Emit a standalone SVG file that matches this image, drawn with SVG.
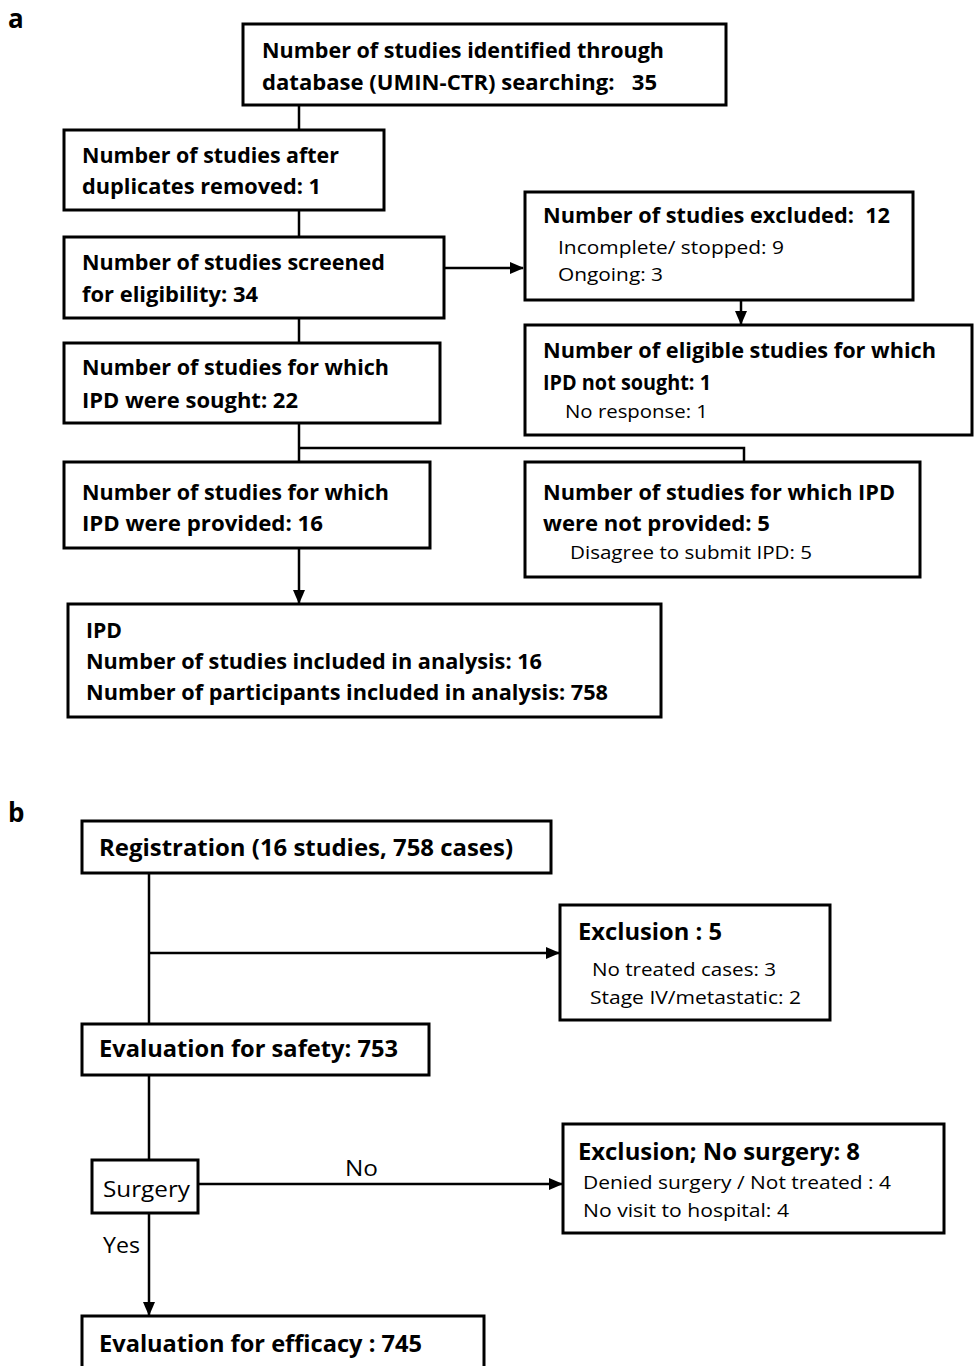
<svg xmlns="http://www.w3.org/2000/svg" width="974" height="1366" viewBox="0 0 974 1366">
<style>
.box{fill:#fff;stroke:#000;stroke-width:3}
.ln{fill:none;stroke:#000;stroke-width:2.5}
.b{font-family:"Open Sans","Liberation Sans",sans-serif;font-weight:bold;font-size:22px;fill:#000}
.bb{font-family:"Open Sans","Liberation Sans",sans-serif;font-weight:bold;font-size:24px;fill:#000}
.n{font-family:"Open Sans","Liberation Sans",sans-serif;font-size:19px;fill:#000}
.nb{font-family:"Open Sans","Liberation Sans",sans-serif;font-size:21px;fill:#000}
.lbl{font-family:"Open Sans","Liberation Sans",sans-serif;font-weight:bold;font-size:26px;fill:#000}
</style>
<defs>
<marker id="ah" markerWidth="14" markerHeight="14" refX="13" refY="7" orient="auto" markerUnits="userSpaceOnUse" viewBox="0 0 14 14">
<path d="M0,1 L14,7 L0,13 z" fill="#000"/>
</marker>
</defs>
<rect width="974" height="1366" fill="#fff"/>
<text class="lbl" x="8" y="28">a</text>
<text class="lbl" x="8" y="822">b</text>
<g id="connectors">
<line class="ln" x1="299" y1="105" x2="299" y2="130"/>
<line class="ln" x1="299" y1="210" x2="299" y2="237"/>
<line class="ln" x1="444" y1="268" x2="523" y2="268" marker-end="url(#ah)"/>
<line class="ln" x1="741" y1="300" x2="741" y2="324" marker-end="url(#ah)"/>
<line class="ln" x1="299" y1="318" x2="299" y2="343"/>
<line class="ln" x1="299" y1="423" x2="299" y2="462"/>
<polyline class="ln" points="299,448 744,448 744,462"/>
<line class="ln" x1="299" y1="548" x2="299" y2="603" marker-end="url(#ah)"/>
<line class="ln" x1="149" y1="873" x2="149" y2="1024"/>
<line class="ln" x1="149" y1="953" x2="559" y2="953" marker-end="url(#ah)"/>
<line class="ln" x1="149" y1="1075" x2="149" y2="1160"/>
<line class="ln" x1="198" y1="1184" x2="562" y2="1184" marker-end="url(#ah)"/>
<text class="nb" x="345" y="1176" textLength="33" lengthAdjust="spacingAndGlyphs">No</text>
<line class="ln" x1="149" y1="1213" x2="149" y2="1315" marker-end="url(#ah)"/>
<text class="nb" x="103" y="1253" textLength="37" lengthAdjust="spacingAndGlyphs">Yes</text>
</g>
<g id="identified">
<rect class="box" x="243" y="24" width="483" height="81"/>
<text class="b" x="262" y="58" textLength="402" lengthAdjust="spacingAndGlyphs">Number of studies identified through</text>
<text class="b" x="262" y="90" textLength="395" lengthAdjust="spacingAndGlyphs" xml:space="preserve">database (UMIN-CTR) searching:   35</text>
</g>
<g id="duplicates">
<rect class="box" x="64" y="130" width="320" height="80"/>
<text class="b" x="82" y="163" textLength="257" lengthAdjust="spacingAndGlyphs">Number of studies after</text>
<text class="b" x="82" y="194" textLength="239" lengthAdjust="spacingAndGlyphs">duplicates removed: 1</text>
</g>
<g id="screened">
<rect class="box" x="64" y="237" width="380" height="81"/>
<text class="b" x="82" y="270" textLength="303" lengthAdjust="spacingAndGlyphs">Number of studies screened</text>
<text class="b" x="82" y="302" textLength="176" lengthAdjust="spacingAndGlyphs">for eligibility: 34</text>
</g>
<g id="excluded">
<rect class="box" x="525" y="192" width="388" height="108"/>
<text class="b" x="543" y="223" textLength="347" lengthAdjust="spacingAndGlyphs" xml:space="preserve">Number of studies excluded:  12</text>
<text class="n" x="558" y="254" textLength="226" lengthAdjust="spacingAndGlyphs">Incomplete/ stopped: 9</text>
<text class="n" x="558" y="281" textLength="105" lengthAdjust="spacingAndGlyphs">Ongoing: 3</text>
</g>
<g id="notsought">
<rect class="box" x="525" y="325" width="447" height="110"/>
<text class="b" x="543" y="358" textLength="393" lengthAdjust="spacingAndGlyphs">Number of eligible studies for which</text>
<text class="b" x="543" y="390" textLength="168" lengthAdjust="spacingAndGlyphs">IPD not sought: 1</text>
<text class="n" x="565" y="418" textLength="143" lengthAdjust="spacingAndGlyphs">No response: 1</text>
</g>
<g id="sought">
<rect class="box" x="64" y="343" width="376" height="80"/>
<text class="b" x="82" y="375" textLength="307" lengthAdjust="spacingAndGlyphs">Number of studies for which</text>
<text class="b" x="82" y="408" textLength="216" lengthAdjust="spacingAndGlyphs">IPD were sought: 22</text>
</g>
<g id="provided">
<rect class="box" x="64" y="462" width="366" height="86"/>
<text class="b" x="82" y="500" textLength="307" lengthAdjust="spacingAndGlyphs">Number of studies for which</text>
<text class="b" x="82" y="531" textLength="241" lengthAdjust="spacingAndGlyphs">IPD were provided: 16</text>
</g>
<g id="notprovided">
<rect class="box" x="525" y="462" width="395" height="115"/>
<text class="b" x="543" y="500" textLength="352" lengthAdjust="spacingAndGlyphs">Number of studies for which IPD</text>
<text class="b" x="543" y="531" textLength="227" lengthAdjust="spacingAndGlyphs">were not provided: 5</text>
<text class="n" x="570" y="559" textLength="242" lengthAdjust="spacingAndGlyphs">Disagree to submit IPD: 5</text>
</g>
<g id="ipd">
<rect class="box" x="68" y="604" width="593" height="113"/>
<text class="b" x="86" y="638" textLength="36" lengthAdjust="spacingAndGlyphs">IPD</text>
<text class="b" x="86" y="669" textLength="456" lengthAdjust="spacingAndGlyphs">Number of studies included in analysis: 16</text>
<text class="b" x="86" y="700" textLength="522" lengthAdjust="spacingAndGlyphs">Number of participants included in analysis: 758</text>
</g>
<g id="registration">
<rect class="box" x="82" y="821" width="469" height="52"/>
<text class="bb" x="99" y="856" textLength="414" lengthAdjust="spacingAndGlyphs">Registration (16 studies, 758 cases)</text>
</g>
<g id="exclusion5">
<rect class="box" x="560" y="905" width="270" height="115"/>
<text class="bb" x="578" y="940" textLength="144" lengthAdjust="spacingAndGlyphs">Exclusion : 5</text>
<text class="n" x="592" y="976" textLength="184" lengthAdjust="spacingAndGlyphs">No treated cases: 3</text>
<text class="n" x="590" y="1004" textLength="211" lengthAdjust="spacingAndGlyphs">Stage IV/metastatic: 2</text>
</g>
<g id="safety">
<rect class="box" x="82" y="1024" width="347" height="51"/>
<text class="bb" x="99" y="1057" textLength="299" lengthAdjust="spacingAndGlyphs">Evaluation for safety: 753</text>
</g>
<g id="surgery">
<rect class="box" x="92" y="1160" width="106" height="53"/>
<text class="nb" x="103" y="1197" textLength="87" lengthAdjust="spacingAndGlyphs">Surgery</text>
</g>
<g id="exclusion8">
<rect class="box" x="563" y="1124" width="381" height="109"/>
<text class="bb" x="578" y="1160" textLength="282" lengthAdjust="spacingAndGlyphs">Exclusion; No surgery: 8</text>
<text class="n" x="583" y="1189" textLength="308" lengthAdjust="spacingAndGlyphs">Denied surgery / Not treated : 4</text>
<text class="n" x="583" y="1217" textLength="206" lengthAdjust="spacingAndGlyphs">No visit to hospital: 4</text>
</g>
<g id="efficacy">
<rect class="box" x="82" y="1316" width="402" height="60"/>
<text class="bb" x="99" y="1352" textLength="323" lengthAdjust="spacingAndGlyphs">Evaluation for efficacy : 745</text>
</g>
</svg>
